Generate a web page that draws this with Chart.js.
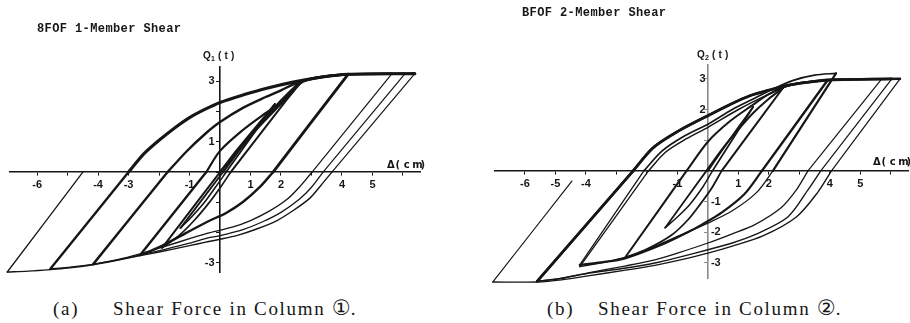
<!DOCTYPE html>
<html>
<head>
<meta charset="utf-8">
<script src="https://cdn.jsdelivr.net/npm/chart.js@4.4.1/dist/chart.umd.min.js"></script>
<style>
  html, body { margin: 0; padding: 0; background: #fff; }
  #wrap { position: relative; width: 910px; height: 323px; overflow: hidden; }
  .panel { position: absolute; top: 0; width: 455px; height: 290px; }
  .title { position: absolute; font: bold 12px "Liberation Mono", monospace; letter-spacing: 0.4px; color: #161616; white-space: pre; }
  .cap { position: absolute; top: 298px; font: 19px "Liberation Serif", serif; letter-spacing: 1.7px; color: #161616; white-space: pre; }
  .circ { font-family: "DejaVu Sans", sans-serif; font-size: 21px; letter-spacing: 0; line-height: 0; }
</style>
</head>
<body>
<div id="wrap">
  <div class="panel" style="left:0"><canvas id="c1" width="455" height="290"></canvas></div>
  <div class="panel" style="left:455px"><canvas id="c2" width="455" height="290"></canvas></div>
  <div class="title" style="left:37px;top:22px">8FOF 1-Member Shear</div>
  <div class="title" style="left:522px;top:6px">BFOF 2-Member Shear</div>
  <div class="cap" style="left:53px">(a)</div>
  <div class="cap" style="left:113px">Shear Force in Column <span class="circ">①</span>.</div>
  <div class="cap" style="left:547px">(b)</div>
  <div class="cap" style="left:598px">Shear Force in Column <span class="circ">②</span>.</div>
</div>
<script>
// ---------- axis ticks and labels ----------
const xTicks = [-6, -5, -4, -3, -2, -1, 0, 1, 2, 3, 4, 5, 6];
const yTicks = [-3, -2, -1, 0, 1, 2, 3];
const xLabels1 = [-6, -4, -3, -1, 1, 2, 4, 5];
const yLabels1 = [3, 1, -3];
const xLabels2 = [-6, -5, -4, -1, 1, 2, 4, 5];
const yLabels2Left = [3, 2];
const yLabels2Right = [-1, -2, -3];

// ---------- Column 1 : shear Q1 (t) vs storey drift Δ (cm) ----------
const c1Load0 = [[0,0],[0.45,0.6],[0.9,1.15],[1.35,1.7],[1.8,2.25]];
const c1Unl0  = [[1.8,2.25],[0.2,0]];
const c1Neg0  = [[0.2,0],[-0.15,-0.5],[-0.55,-1.05],[-0.95,-1.5],[-1.3,-1.85]];
const c1Rel0  = [[-1.3,-1.85],[0.1,0]];
const c1Load1 = [[0.1,0],[0.6,0.68],[1.2,1.45],[1.8,2.15],[2.25,2.62],[2.62,2.95]];
const c1Unl1  = [[2.62,2.95],[0.35,0]];
const c1Neg1  = [[0.35,0],[0.05,-0.45],[-0.35,-1.0],[-0.85,-1.6],[-1.35,-2.1],[-1.9,-2.5]];
const c1Rel1  = [[-1.9,-2.5],[0,0]];
const c1Load2 = [[0,0],[0.6,0.72],[1.2,1.42],[1.8,2.05],[2.3,2.55],[2.7,2.98],[3.3,3.13],[4.2,3.23]];
const c1Unl2  = [[4.2,3.23],[1.74,0]];
const c1Neg2  = [[1.74,0],[1.3,-0.5],[0.75,-0.99],[0.2,-1.35],[-0.33,-1.6],[-1.0,-1.95],[-1.74,-2.35],[-2.2,-2.57],[-2.62,-2.74]];
const c1Rel2  = [[-2.62,-2.74],[-0.45,0]];
const c1Load3 = [[-0.45,0],[0,0.7],[0.75,1.39],[1.4,1.88],[1.87,2.2],[2.3,2.62],[2.6,2.96],[3.3,3.14],[4.2,3.23],[5.64,3.25]];
const c1Unl3  = [[5.64,3.25],[3.02,0]];
const c1Neg3  = [[3.02,0],[2.6,-0.5],[2.2,-0.9],[1.6,-1.3],[1.0,-1.6],[0.4,-1.82],[-0.33,-2.0],[-1.0,-2.2],[-1.8,-2.45],[-2.62,-2.7],[-3.4,-2.9],[-4.16,-3.04]];
const c1Rel3  = [[-4.16,-3.04],[-1.72,0]];
const c1Load4 = [[-1.72,0],[-1.1,0.68],[-0.5,1.25],[0,1.65],[0.75,2.12],[1.5,2.48],[2.0,2.7],[2.6,2.98],[3.3,3.14],[4.2,3.23],[6.07,3.25]];
const c1Unl4  = [[6.07,3.25],[3.38,0]];
const c1Neg4  = [[3.38,0],[3.0,-0.5],[2.6,-0.9],[2.0,-1.33],[1.4,-1.64],[0.75,-1.9],[0,-2.1],[-0.33,-2.16],[-1.0,-2.35],[-1.8,-2.55],[-2.62,-2.74],[-3.4,-2.91],[-4.16,-3.05],[-5.0,-3.15],[-5.57,-3.2]];
const c1Rel4  = [[-5.57,-3.2],[-3.0,0]];
const c1Load5 = [[-3.0,0],[-2.5,0.6],[-2.0,1.05],[-1.5,1.45],[-1.0,1.8],[-0.5,2.07],[0,2.3],[0.8,2.56],[1.5,2.76],[2.4,2.97],[3.3,3.13],[4.2,3.23],[6.39,3.25]];
const c1Unl5  = [[6.39,3.25],[3.67,0]];
const c1Neg5  = [[3.67,0],[3.3,-0.45],[2.95,-0.86],[2.4,-1.27],[1.87,-1.6],[1.2,-1.88],[0.6,-2.08],[0,-2.22],[-0.5,-2.32],[-1.0,-2.43],[-2.0,-2.64],[-2.62,-2.76],[-3.5,-2.94],[-4.16,-3.06],[-5.0,-3.17],[-5.57,-3.22],[-6.3,-3.27],[-6.98,-3.3]];
const c1Rel5  = [[-6.98,-3.3],[-4.5,0]];

// ---------- Column 2 : shear Q2 (t) vs storey drift Δ (cm) ----------
const c2Load0 = [[0,0],[0.5,0.72],[1.0,1.42],[1.48,2.08]];
const c2Unl0  = [[1.48,2.08],[0.15,0]];
const c2Neg0  = [[0.15,0],[-0.15,-0.5],[-0.6,-1.1],[-1.0,-1.5],[-1.4,-1.85]];
const c2Rel0  = [[-1.4,-1.85],[-0.05,0]];
const c2Load1 = [[-0.05,0],[0.5,0.75],[1.0,1.35],[1.5,1.9],[2.0,2.35],[2.46,2.7]];
const c2Unl1  = [[2.46,2.7],[0.45,0]];
const c2Neg1  = [[0.45,0],[0.1,-0.6],[-0.3,-1.15],[-0.66,-1.6],[-1.2,-2.1],[-2.0,-2.55],[-2.72,-2.83]];
const c2Rel1  = [[-2.72,-2.83],[-0.7,0]];
const c2Load2 = [[-0.7,0],[0,0.95],[0.7,1.6],[1.4,2.1],[2.0,2.5],[2.7,2.8],[3.5,2.92],[3.93,2.96]];
const c2Unl2  = [[3.93,2.96],[1.77,0]];
const c2Neg2  = [[1.77,0],[1.2,-0.75],[0.46,-1.35],[-0.2,-1.75],[-0.66,-2.0],[-1.5,-2.4],[-2.72,-2.85],[-3.5,-2.98],[-4.2,-3.06]];
const c2Rel2  = [[-4.2,-3.06],[-2.1,0]];
const c2Load3 = [[-2.1,0],[-1.5,0.65],[-0.8,1.12],[0,1.52],[0.8,2.0],[1.5,2.35],[2.1,2.65],[2.8,2.95],[3.5,3.12],[4.2,3.18]];
const c2Unl3  = [[4.2,3.18],[2.13,0]];
const c2Neg3  = [[2.13,0],[1.6,-0.7],[0.8,-1.3],[0,-1.7],[-0.8,-2.05],[-1.6,-2.4],[-2.5,-2.75],[-3.4,-2.98],[-4.2,-3.12]];
const c2Rel3  = [[-4.2,-3.12],[-1.95,0]];
const c2Load4 = [[-1.95,0],[-1.4,0.6],[-0.7,1.05],[0,1.42],[1.0,2.0],[2.0,2.5],[2.7,2.8],[3.5,2.92],[4.1,2.97],[5.7,3.0]];
const c2Unl4  = [[5.7,3.0],[3.28,0]];
const c2Neg4  = [[3.28,0],[2.9,-0.62],[2.4,-1.2],[1.54,-1.75],[0.8,-2.05],[0,-2.35],[-1.0,-2.68],[-1.74,-2.9],[-2.72,-3.1],[-3.93,-3.32],[-4.8,-3.5],[-5.6,-3.6]];
const c2Rel4  = [[-5.6,-3.6],[-2.45,0]];
const c2Load5 = [[-2.45,0],[-1.8,0.75],[-1.0,1.28],[0,1.8],[0.7,2.15],[1.38,2.45],[2.0,2.63],[2.69,2.8],[3.5,2.92],[4.1,2.97],[6.03,3.0]];
const c2Unl5  = [[6.03,3.0],[3.7,0]];
const c2Neg5  = [[3.7,0],[3.28,-0.62],[2.62,-1.5],[1.54,-2.08],[0.8,-2.35],[0,-2.57],[-0.9,-2.8],[-1.74,-3.0],[-2.8,-3.18],[-3.93,-3.34],[-4.8,-3.5],[-5.6,-3.6]];
const c2Rel5  = [[-5.6,-3.6],[-2.45,0]];
const c2Load6 = [[-2.45,0],[-1.8,0.75],[-1.0,1.28],[0,1.8],[0.7,2.15],[1.38,2.45],[2.0,2.63],[2.69,2.8],[3.5,2.92],[4.1,2.97],[6.3,3.0]];
const c2Unl6  = [[6.3,3.0],[4.05,0]];
const c2Neg6  = [[4.05,0],[3.6,-0.7],[2.9,-1.5],[1.8,-2.12],[0.8,-2.45],[0,-2.68],[-0.9,-2.9],[-1.74,-3.08],[-2.8,-3.25],[-3.93,-3.42],[-4.8,-3.55],[-5.6,-3.62],[-7.05,-3.62]];
const c2Rel6  = [[-7.05,-3.62],[-4.46,-0.33]];

// branch list with pen width for each traced path
const column1Paths = [
  [c1Load0,2.0],[c1Unl0,1.8],[c1Neg0,1.6],[c1Rel0,1.8],[c1Load1,2.2],[c1Unl1,2.0],[c1Neg1,1.7],[c1Rel1,2.0],
  [c1Load2,2.4],[c1Unl2,2.9],[c1Neg2,2.4],[c1Rel2,2.4],[c1Load3,2.2],[c1Unl3,1.2],[c1Neg3,1.4],[c1Rel3,2.4],
  [c1Load4,2.4],[c1Unl4,1.2],[c1Neg4,1.3],[c1Rel4,2.4],[c1Load5,3.1],[c1Unl5,1.2],[c1Neg5,1.4],[c1Rel5,1.3]
];
const column2Paths = [
  [c2Load0,1.8],[c2Unl0,1.8],[c2Neg0,1.5],[c2Rel0,1.8],[c2Load1,2.0],[c2Unl1,2.0],[c2Neg1,1.8],[c2Rel1,2.0],
  [c2Load2,2.0],[c2Unl2,2.4],[c2Neg2,2.2],[c2Rel2,1.3],[c2Load3,1.7],[c2Unl3,2.2],[c2Neg3,1.3],[c2Rel3,1.3],
  [c2Load4,1.5],[c2Unl4,1.2],[c2Neg4,1.3],[c2Rel4,2.6],[c2Load5,2.8],[c2Unl5,1.2],[c2Neg5,1.4],[c2Rel5,2.6],
  [c2Load6,2.4],[c2Unl6,1.2],[c2Neg6,1.4],[c2Rel6,1.2]
];

const INK = '#161616';
const tickFont = { family: 'Liberation Sans', size: 11, weight: 'bold' };

// draws a string one glyph at a time with a fixed advance (plotter lettering)
function spaced(ctx, text, x, y, adv) {
  for (let i = 0; i < text.length; i++) ctx.fillText(text[i], x + i * adv, y);
}

// axis names (Q_n(t) above the force axis, Δ(cm) at the right end of the drift axis)
// and the force labels that sit on the right-hand side of the force axis
function axisDecor(o) {
  return {
    id: 'axisDecor' + o.sub,
    afterDraw(chart) {
      const { ctx } = chart;
      const xs = chart.scales.x, ys = chart.scales.y;
      const x0 = xs.getPixelForValue(0), y0 = ys.getPixelForValue(0);
      ctx.save();
      ctx.fillStyle = INK;
      ctx.textAlign = 'left';
      ctx.textBaseline = 'alphabetic';
      ctx.font = 'bold 10px "Liberation Sans"';
      const qx = x0 + o.qDx, qy = ys.top + o.qDy;
      ctx.fillText('Q', qx, qy);
      ctx.font = 'bold 7px "Liberation Sans"';
      ctx.fillText(o.sub, qx + 8, qy + 2);
      ctx.font = 'bold 10px "Liberation Sans"';
      spaced(ctx, '(t)', qx + 15, qy, 6.5);
      ctx.font = 'bold 10px "DejaVu Sans"';
      spaced(ctx, 'Δ(cm)', xs.right + o.dDx, y0 + o.dDy, 8.4);
      if (o.yLabelsRight) {
        ctx.font = 'bold 11px "Liberation Sans"';
        ctx.textBaseline = 'middle';
        o.yLabelsRight.forEach(v => ctx.fillText(String(v), x0 + 3, ys.getPixelForValue(v)));
      }
      ctx.restore();
    }
  };
}

function makeChart(id, paths, o) {
  const datasets = paths.map(([pts, w]) => ({
    data: pts.map(([x, y]) => ({ x, y })),
    showLine: true, fill: false, pointRadius: 0, borderColor: INK, borderWidth: w,
    tension: 0.3, clip: false, borderCapStyle: 'round', borderJoinStyle: 'round'
  }));
  const scales = {
    x: {
      type: 'linear', position: { y: 0 }, min: o.xMin, max: o.xMax,
      afterBuildTicks: s => { s.ticks = xTicks.map(v => ({ value: v })); },
      ticks: { autoSkip: false, maxRotation: 0, padding: 3, color: INK, font: tickFont,
               callback: v => o.xLabels.includes(v) ? String(v) : '' },
      grid: { drawOnChartArea: false, drawTicks: true, tickLength: 3, color: INK, lineWidth: 1 },
      border: { display: true, color: INK, width: 1.6 }
    },
    y: {
      type: 'linear', position: { x: 0 }, min: o.yMin, max: o.yMax,
      afterBuildTicks: s => { s.ticks = yTicks.map(v => ({ value: v })); },
      ticks: { autoSkip: false, padding: 3, color: INK, font: tickFont,
               callback: v => o.yLabels.includes(v) ? String(v) + o.yGap : '' },
      grid: { drawOnChartArea: false, drawTicks: true, tickLength: 3, color: o.yAxisColor, lineWidth: 1 },
      border: { display: true, color: o.yAxisColor, width: 1.6 }
    }
  };
  return new Chart(document.getElementById(id), {
    type: 'scatter',
    data: { datasets },
    options: {
      responsive: false, animation: false, devicePixelRatio: 1,
      layout: { padding: o.padding },
      plugins: { legend: { display: false }, tooltip: { enabled: false } },
      scales
    },
    plugins: [axisDecor(o)]
  });
}

makeChart('c1', column1Paths, {
  xMin: -6.89, xMax: 6.56, yMin: -3.3, yMax: 3.47,
  xLabels: xLabels1, yLabels: yLabels1, yGap: '\u2002', yAxisColor: INK,
  padding: { left: 10, right: 35, top: 67, bottom: 18 },
  sub: '1', qDx: -17, qDy: -8, dDx: -33, dDy: -4
});
makeChart('c2', column2Paths, {
  xMin: -6.98, xMax: 6.56, yMin: -3.49, yMax: 3.45,
  xLabels: xLabels2, yLabels: yLabels2Left, yLabelsRight: yLabels2Right, yGap: '\u2009', yAxisColor: '#8a8a8a',
  padding: { left: 40, right: 2, top: 65, bottom: 12 },
  sub: '2', qDx: -11, qDy: -7, dDx: -35, dDy: -6
});
</script>
</body>
</html>
